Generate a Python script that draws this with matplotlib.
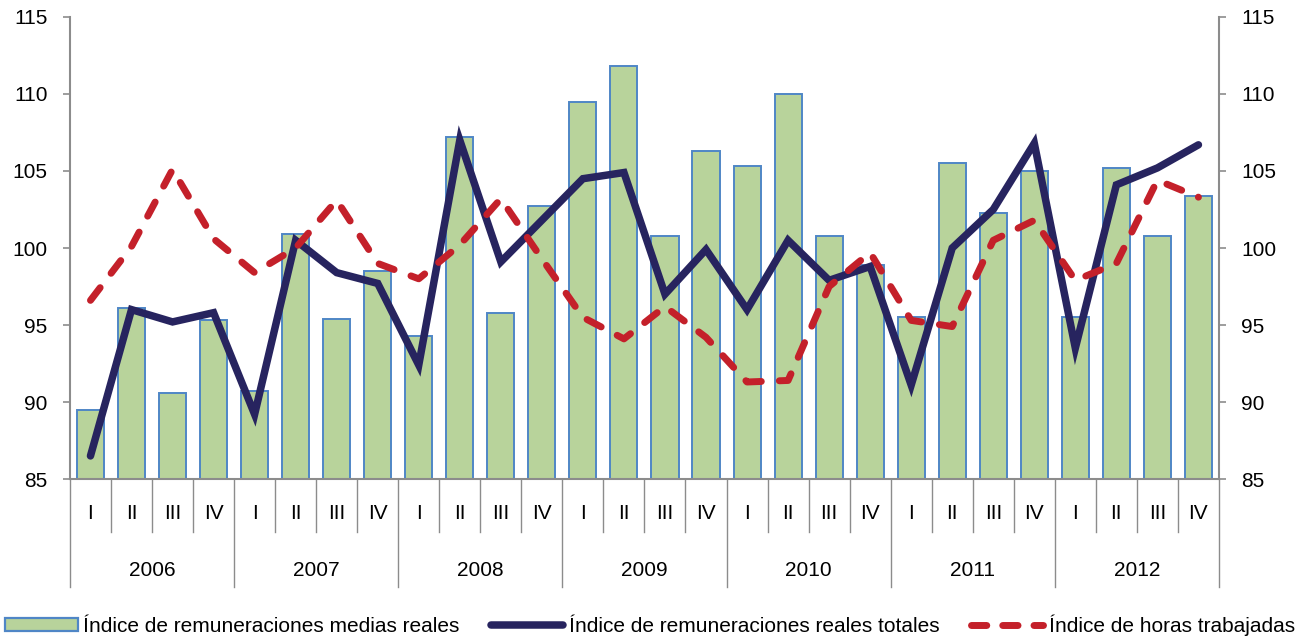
import matplotlib
matplotlib.use("Agg")
import matplotlib.pyplot as plt
from matplotlib.lines import Line2D
from matplotlib.patches import Patch
from matplotlib.transforms import blended_transform_factory

plt.rcParams["font.family"] = ["Liberation Sans", "DejaVu Sans"]

years = ["2006", "2007", "2008", "2009", "2010", "2011", "2012"]
quarters = ["I", "II", "III", "IV"]

medias = [89.5, 96.1, 90.6, 95.3,
          90.7, 100.9, 95.4, 98.5,
          94.3, 107.2, 95.8, 102.7,
          109.5, 111.8, 100.8, 106.3,
          105.3, 110.0, 100.8, 98.9,
          95.5, 105.5, 102.3, 105.0,
          95.5, 105.2, 100.8, 103.4]
totales = [86.5, 96.0, 95.2, 95.8,
           89.2, 100.5, 98.4, 97.7,
           92.4, 107.0, 99.1, 101.8,
           104.5, 104.9, 97.0, 99.9,
           96.0, 100.5, 97.9, 98.8,
           91.1, 100.0, 102.5, 106.8,
           93.5, 104.1, 105.2, 106.7]
horas = [96.6, 100.1, 105.1, 100.6,
         98.4, 100.0, 103.1, 99.0,
         98.0, 100.2, 103.2, 99.3,
         95.5, 94.1, 96.2, 94.2,
         91.3, 91.4, 97.5, 99.7,
         95.3, 94.9, 100.5, 101.8,
         97.9, 99.0, 104.4, 103.3]

GREEN = "#B8D39B"
EDGE = "#4F86C6"
NAVY = "#27245F"
RED = "#C4202A"
GREY = "#8C8C8C"
FS = 15

fig = plt.figure(figsize=(13.1, 6.41), dpi=100)
ax = fig.add_axes([0.0534, 0.2527, 0.8771, 0.7208])
x = list(range(len(medias)))

ax.bar(x, medias, width=0.66, color=GREEN, edgecolor=EDGE, linewidth=1.4,
       zorder=2)
ax.plot(x, totales, color=NAVY, lw=5.4, solid_joinstyle="miter",
        solid_capstyle="round", zorder=3)
ax.plot(x, horas, color=RED, lw=5.0, dashes=(2.3, 2.6),
        dash_capstyle="round", zorder=4)

ax.set_xlim(-0.5, len(x) - 0.5)
ax.set_ylim(85, 115)
ax.set_yticks(range(85, 116, 5))
ax.tick_params(axis="y", labelsize=FS, length=5, color=GREY, width=1.2,
               pad=11)
ax.set_xticks([])
for s in ["left", "bottom"]:
    ax.spines[s].set_color(GREY)
    ax.spines[s].set_linewidth(1.5)
ax.spines["top"].set_visible(False)
ax.spines["right"].set_visible(False)

ax2 = ax.twinx()
ax2.set_ylim(85, 115)
ax2.set_yticks(range(85, 116, 5))
ax2.tick_params(axis="y", labelsize=FS, length=5, color=GREY, width=1.2,
                pad=11)
for s in ["left", "top", "bottom"]:
    ax2.spines[s].set_visible(False)
ax2.spines["right"].set_color(GREY)
ax2.spines["right"].set_linewidth(1.5)

# two-level category axis
tr = blended_transform_factory(ax.transData, ax.transAxes)
q_len, y_len = 0.115, 0.234
for i in range(len(x) + 1):
    pos = i - 0.5
    bot = -y_len if i % 4 == 0 else -q_len
    ax.plot([pos, pos], [0, bot], transform=tr, color=GREY, lw=1.0,
            clip_on=False)
for i in x:
    ax.text(i, -0.075, quarters[i % 4], transform=tr, ha="center",
            va="center", fontsize=FS)
for k, yr in enumerate(years):
    ax.text(4 * k + 1.5, -0.197, yr, transform=tr, ha="center", va="center",
            fontsize=FS)

handles = [
    Patch(facecolor=GREEN, edgecolor=EDGE, linewidth=1.6),
    Line2D([], [], color=NAVY, lw=5.4, solid_capstyle="round"),
    Line2D([], [], color=RED, lw=5.0, dashes=(2.2, 2.3),
           dash_capstyle="round"),
]
labels = ["Índice de remuneraciones medias reales",
          "Índice de remuneraciones reales totales",
          "Índice de horas trabajadas"]
fig.legend(handles, labels, loc="center", bbox_to_anchor=(0.496, 0.025),
           ncol=3, frameon=False, fontsize=FS, handlelength=3.5,
           handleheight=0.6, handletextpad=0.25, columnspacing=1.5,
           borderpad=0.2)

fig.savefig("out.png", dpi=100)
